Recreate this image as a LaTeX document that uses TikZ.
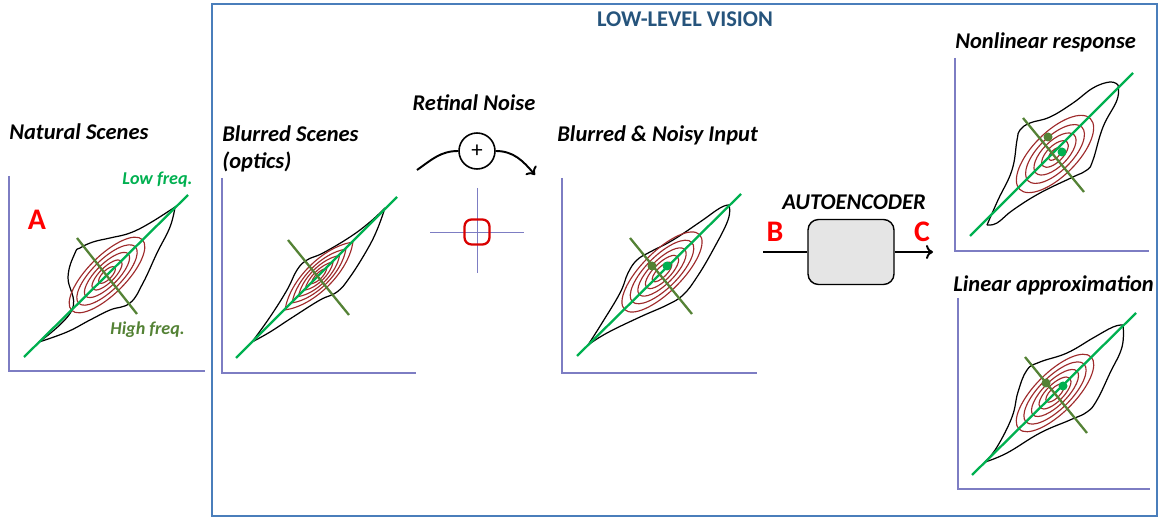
\documentclass[tikz,border=0pt]{standalone}
\usepackage{fontspec}
\setmainfont{Carlito}
\usepackage{tikz}
\usetikzlibrary{arrows.meta}
\definecolor{frameblue}{RGB}{74,126,187}
\definecolor{titleblue}{RGB}{38,84,124}
\definecolor{axispurple}{RGB}{125,125,195}
\definecolor{lowgreen}{RGB}{0,176,80}
\definecolor{highgreen}{RGB}{84,130,53}
\definecolor{contred}{RGB}{158,42,43}
\definecolor{markred}{RGB}{255,0,0}
\tikzset{
  axis/.style={axispurple, line width=0.8pt},
  outer/.style={black, line width=0.7pt},
  inner/.style={contred, line width=0.65pt},
  lowline/.style={lowgreen, line width=1.3pt},
  highline/.style={highgreen, line width=1.3pt},
  lbl/.style={font=\fontsize{12.8}{14}\selectfont\bfseries\itshape, inner sep=0pt},
  small/.style={font=\fontsize{10.3}{12}\selectfont\bfseries\itshape, inner sep=0pt},
  letter/.style={font=\fontsize{17}{19}\selectfont\bfseries, text=markred, inner sep=0pt},
  cross/.style={axispurple, line width=0.5pt}
}

\begin{document}
\begin{tikzpicture}[x=0.02cm,y=0.02cm,>={To[length=4pt,width=8pt]}]
\useasboundingbox (0,0) rectangle (1159,517);
\draw[frameblue, line width=1.6pt] (212,1) rectangle (1157,513);
\node[font=\fontsize{12.8}{14}\selectfont\bfseries, text=titleblue] (llv) at (685,498) {LOW-LEVEL VISION};

\node[lbl, anchor=west] (natural) at (9,385) {Natural Scenes};
\node[small, text=lowgreen, anchor=west] (lowf) at (122,337) {Low freq.};
\node[small, text=highgreen, anchor=west] (highf) at (110,187) {High freq.};
\node[letter] (la) at (37,297) {A};
\begin{scope}[shift={(9,146)}]
\draw[axis] (0,195) -- (0,0) -- (196,0);
\draw[outer] plot[smooth, tension=0.7] coordinates {(30,29) (63,61) (59,94) (66,118) (71,123) (84,129) (101,133) (121,138) (141,148) (166,164)};
\draw[outer] plot[smooth, tension=0.7] coordinates {(166,164) (161,144) (148,118) (134,88) (121,68) (101,61) (81,51) (58,39) (30,29)};
\foreach \a/\b in {50/19,40/15,30/11,20/7.5,11/4.5}
  \draw[inner, rotate around={45:(98,96)}] (98,96) ellipse [x radius=\a, y radius=\b];
\draw[lowline] (15,14) -- (179,176);
\draw[highline] (68,133) -- (128,57);
\end{scope}

\node[lbl, anchor=west] (blurred) at (222,383) {Blurred Scenes};
\node[lbl, anchor=west] (optics) at (222,355) {(optics)};
\begin{scope}[shift={(222,144)}]
\draw[axis] (0,195) -- (0,0) -- (194,0);
\draw[outer] plot[smooth, tension=0.7] coordinates {(30,31) (48,56) (65,83) (75,103) (85,113) (101,120) (128,136) (148,151) (163,165)};
\draw[outer] plot[smooth, tension=0.7] coordinates {(163,165) (155,143) (145,123) (128,96) (115,81) (98,73) (71,56) (48,41) (30,31)};
\foreach \a/\w in {48/18,38/14,29/10.5,20/7,11/4}
  \draw[inner, shift={(97,97)}, rotate=45] (-\a,0) .. controls (-\a/2,\w) and (\a/2,\w) .. (\a,0) .. controls (\a/2,-\w) and (-\a/2,-\w) .. cycle;
\draw[lowline] (14,15) -- (175,176);
\draw[highline] (66,133) -- (127,58);
\end{scope}

\node[lbl] (retinal) at (474,414) {Retinal Noise};
\node[draw, circle, line width=0.9pt, minimum size=0.72cm, inner sep=0pt, font=\fontsize{13}{14}\selectfont] (sum) at (477,366) {+};
\coordinate (nin) at (417,347);
\coordinate (nout) at (535,342);
\draw[line width=1.1pt] (nin) to[out=35,in=180] (sum.west);
\draw[->, line width=1.1pt] (sum.east) to[out=0,in=130] (nout);
\draw[cross] (430,285) -- (524,285);
\draw[cross] (477,329) -- (477,244);
\node[draw=markred!85!black, line width=1.3pt, rounded corners=4pt, minimum size=0.5cm, inner sep=0pt] (noise) at (477,285) {};

\node[lbl, anchor=west] (noisy) at (557,382) {Blurred \& Noisy Input};
\begin{scope}[shift={(562,144)}]
\draw[axis] (0,195) -- (0,0) -- (195,0);
\draw[outer] plot[smooth, tension=0.7] coordinates {(26,28) (40,50) (58,80) (66,100) (75,113) (88,121) (111,133) (138,151) (158,165) (167,168)};
\draw[outer] plot[smooth, tension=0.7] coordinates {(167,168) (166,153) (151,123) (135,96) (121,78) (105,68) (78,56) (45,40) (26,28)};
\foreach \a/\b in {53/20,42/16,32/12,22/8.5,13/5}
  \draw[inner, rotate around={45:(100,101)}] (100,101) ellipse [x radius=\a, y radius=\b];
\draw[lowline] (15,17) -- (179,179);
\draw[highline] (68,135) -- (130,59);
\fill[highgreen] (90,107) circle (4.5);
\fill[lowgreen] (105,107) circle (4.5);
\end{scope}

\node[lbl] (aelbl) at (854,315) {AUTOENCODER};
\node[letter] (lb) at (775,285) {B};
\node[letter] (lc) at (922,285) {C};
\node[draw, fill=gray!20, line width=0.8pt, rounded corners=6pt, minimum width=1.72cm, minimum height=1.3cm] (ae) at (851,265) {};
\coordinate (bin) at (763,265);
\coordinate (cout) at (933,265);
\draw[line width=1.1pt] (bin) -- (ae);
\draw[->, line width=1.1pt] (ae) -- (cout);

\node[lbl, anchor=west] (nonlin) at (955,475) {Nonlinear response};
\begin{scope}[shift={(955,266)}]
\draw[axis] (0,193) -- (0,0) -- (194,0);
\draw[outer] plot[smooth, tension=0.7] coordinates {(32,26) (43,51) (57,81) (62,111) (65,121) (75,128) (95,134) (118,148) (138,163) (155,169) (163,166)};
\draw[outer] plot[smooth, tension=0.7] coordinates {(163,166) (162,151) (148,124) (138,91) (132,81) (118,74) (85,58) (58,41) (42,28) (32,26)};
\foreach \a/\b in {50/22,38/17,27/12.5,17/8,8/4}
  \draw[inner, rotate around={45:(100,97)}] (100,97) ellipse [x radius=\a, y radius=\b];
\draw[lowline] (15,15) -- (178,178);
\draw[highline] (68,133) -- (129,59);
\fill[highgreen] (93,114) circle (4.5);
\fill[lowgreen] (107,99) circle (4.5);
\end{scope}

\node[lbl, anchor=west] (linapp) at (953,232) {Linear approximation};
\begin{scope}[shift={(958,28)}]
\draw[axis] (0,191) -- (0,0) -- (192,0);
\draw[outer] plot[smooth, tension=0.7] coordinates {(27,27) (39,42) (54,72) (60,97) (69,119) (82,127) (109,136) (135,151) (155,162) (165,164)};
\draw[outer] plot[smooth, tension=0.7] coordinates {(165,164) (164,142) (152,116) (139,89) (129,77) (112,69) (82,56) (49,36) (27,27)};
\foreach \a/\b in {51/20,41/16,31/12,21/8.5,12/5}
  \draw[inner, rotate around={45:(97,96)}] (97,96) ellipse [x radius=\a, y radius=\b];
\draw[lowline] (14,14) -- (178,176);
\draw[highline] (67,132) -- (129,56);
\fill[highgreen] (88,106) circle (4.5);
\fill[lowgreen] (105,103) circle (4.5);
\end{scope}
\end{tikzpicture}
\end{document}
